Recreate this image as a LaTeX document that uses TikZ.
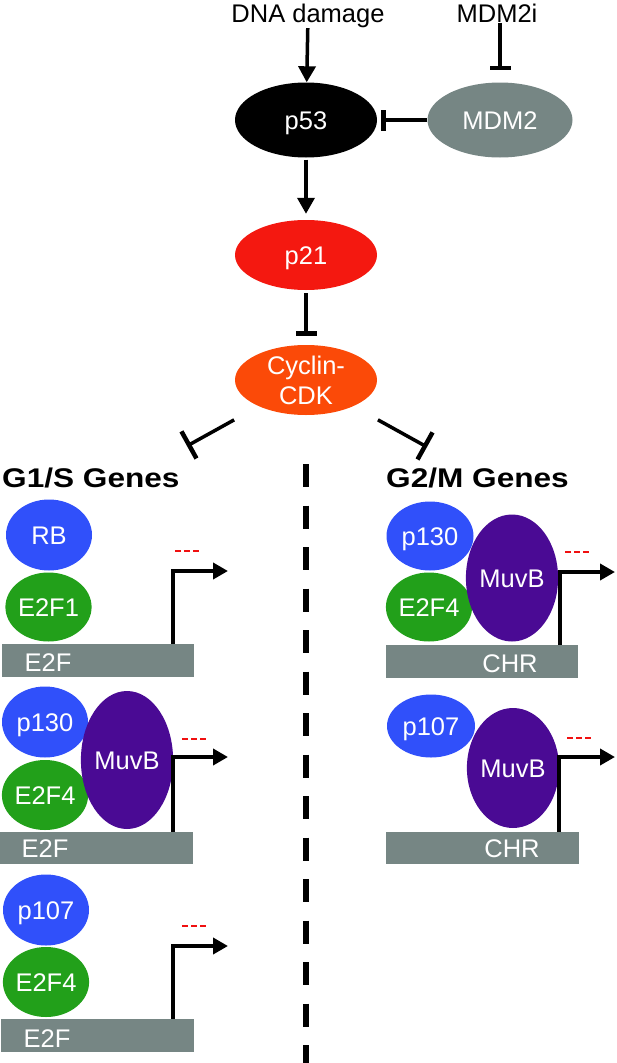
\documentclass[tikz,border=0pt]{standalone}
\usepackage{fontspec}
\setmainfont{Liberation Sans}
\usetikzlibrary{shapes.geometric,arrows.meta}
\definecolor{mgray}{HTML}{768684}
\definecolor{pred}{HTML}{F41810}
\definecolor{corange}{HTML}{FB4A08}
\definecolor{pblue}{HTML}{3050FA}
\definecolor{pgreen}{HTML}{22A01A}
\definecolor{ppurple}{HTML}{4A0A94}
\definecolor{dred}{HTML}{F01010}
\begin{document}
\begin{tikzpicture}[x=1pt,y=-1pt,
  txt/.style={font=\fontsize{25.5}{30}\selectfont, inner sep=0pt},
  ell/.style={ellipse, draw=none, inner sep=0pt, text=white, font=\fontsize{25.5}{30}\selectfont, text height=18.3pt, text depth=0pt},
  box/.style={rectangle, fill=mgray, draw=none, inner sep=0pt},
  wtxt/.style={text=white, font=\fontsize{25.5}{30}\selectfont, inner sep=0pt, text height=18.3pt, text depth=0pt},
  hdr/.style={font=\fontsize{27}{30}\bfseries\selectfont, inner sep=0pt, anchor=west, text height=19.3pt, text depth=0pt},
  arr/.style={line width=3.5pt, -{Triangle[length=16pt,width=17pt]}},
  inh/.style={line width=3.5pt, -{Bar[width=21pt,line width=4.5pt]}},
  inhd/.style={line width=3.5pt, -{Bar[width=31pt,line width=4.5pt]}},
  prom/.style={line width=4pt, line join=miter, -{Triangle[length=15pt,width=16pt]}},
  rdash/.style={dred, line width=2pt, dash pattern=on 6pt off 3pt}
]
\useasboundingbox (0,0) rectangle (617,1063);

% top pathway
\node[txt, anchor=base] (dna) at (308,22.7) {DNA damage};
\node[txt, anchor=base] (mdmi) at (497,22.7) {MDM2i};
\node[ell, fill=black, minimum width=142, minimum height=75] (p53) at (306,120) {p53};
\node[ell, fill=mgray, minimum width=145, minimum height=75] (mdm2) at (500,120) {MDM2};
\node[ell, fill=pred, minimum width=142, minimum height=70] (p21) at (306,255) {p21};
\node[ell, fill=corange, minimum width=142, minimum height=70, align=center, text height=48.3pt] (cdk) at (306,380) {Cyclin-\\CDK};

\draw[arr] (dna) -- (p53);
\draw[inh, shorten >=12pt] (mdmi.south -| mdm2.north) -- (mdm2.north);
\draw[inh, shorten >=4pt] (mdm2) -- (p53);
\draw[arr, shorten <=2pt, shorten >=6pt] (p53) -- (p21);
\draw[inh, shorten <=3pt, shorten >=9pt] (p21) -- (cdk);

\coordinate (i1) at (187,446);
\coordinate (i2) at (427,447);
\draw[inhd, shorten <=28pt] (cdk) -- (i1);
\draw[inhd, shorten <=28pt] (cdk) -- (i2);

% headers
\node[hdr] (g1s) at (2,477.5) {\scalebox{1.17}[1]{G1/S Genes}};
\node[hdr] (g2m) at (386,477.5) {\scalebox{1.17}[1]{G2/M Genes}};

% divider
\draw[line width=5.5pt, dash pattern=on 23pt off 18.5pt] (306,464) -- (306,1063);

% ---------- left panel 1
\node[ell, fill=pblue, minimum width=86, minimum height=71] (rb) at (49,535) {RB};
\node[ell, fill=pgreen, minimum width=85, minimum height=69] (e2f1) at (48.5,607) {E2F1};
\node[box, minimum width=192, minimum height=33] (bA) at (98,660.5) {};
\node[wtxt] (tA) at (48,662) {E2F};
\coordinate (pA) at (228,571);
\draw[prom] (173,0 |- bA.north) |- (pA);
\draw[rdash] (175,551) -- (199,551);

% ---------- left panel 2
\node[ell, fill=pblue, minimum width=86, minimum height=71] (p130a) at (45,722) {p130};
\node[ell, fill=pgreen, minimum width=84, minimum height=70] (e2f4a) at (45,795) {E2F4};
\node[ell, fill=ppurple, minimum width=84, minimum height=138] (muvA) at (127,760) {MuvB};
\node[box, minimum width=193, minimum height=32] (bB) at (96.5,848) {};
\node[wtxt] (tB) at (45,848) {E2F};
\coordinate (pB) at (228,757);
\draw[prom] (173,0 |- bB.north) |- (pB);
\draw[rdash] (182,739) -- (206,739);

% ---------- left panel 3
\node[ell, fill=pblue, minimum width=86, minimum height=71] (p107a) at (46,910) {p107};
\node[ell, fill=pgreen, minimum width=85, minimum height=70] (e2f4b) at (46,982) {E2F4};
\node[box, minimum width=193, minimum height=33] (bC) at (97.5,1035.5) {};
\node[wtxt] (tC) at (47,1038) {E2F};
\coordinate (pC) at (228,946);
\draw[prom] (173,0 |- bC.north) |- (pC);
\draw[rdash] (182,926) -- (207,926);

% ---------- right panel 1
\node[ell, fill=pblue, minimum width=87, minimum height=69] (p130b) at (430,536) {p130};
\node[ell, fill=pgreen, minimum width=82, minimum height=69] (e2f4c) at (429,607) {E2F4};
\node[ell, fill=ppurple, minimum width=86, minimum height=127] (muvB) at (512,578) {MuvB};
\node[box, minimum width=192, minimum height=33] (bD) at (482,661.5) {};
\node[wtxt] (tD) at (510,663) {CHR};
\coordinate (pD) at (615,572);
\draw[prom] (560,0 |- bD.north) |- (pD);
\draw[rdash] (565,552) -- (590,552);

% ---------- right panel 2
\node[ell, fill=pblue, minimum width=88, minimum height=63] (p107b) at (431,726) {p107};
\node[ell, fill=ppurple, minimum width=84, minimum height=120] (muvC) at (513,768) {MuvB};
\node[box, minimum width=193, minimum height=32] (bE) at (482.5,848) {};
\node[wtxt] (tE) at (512,848) {CHR};
\coordinate (pE) at (615,757);
\draw[prom] (559,0 |- bE.north) |- (pE);
\draw[rdash] (567,738) -- (592,738);
\end{tikzpicture}
\end{document}
